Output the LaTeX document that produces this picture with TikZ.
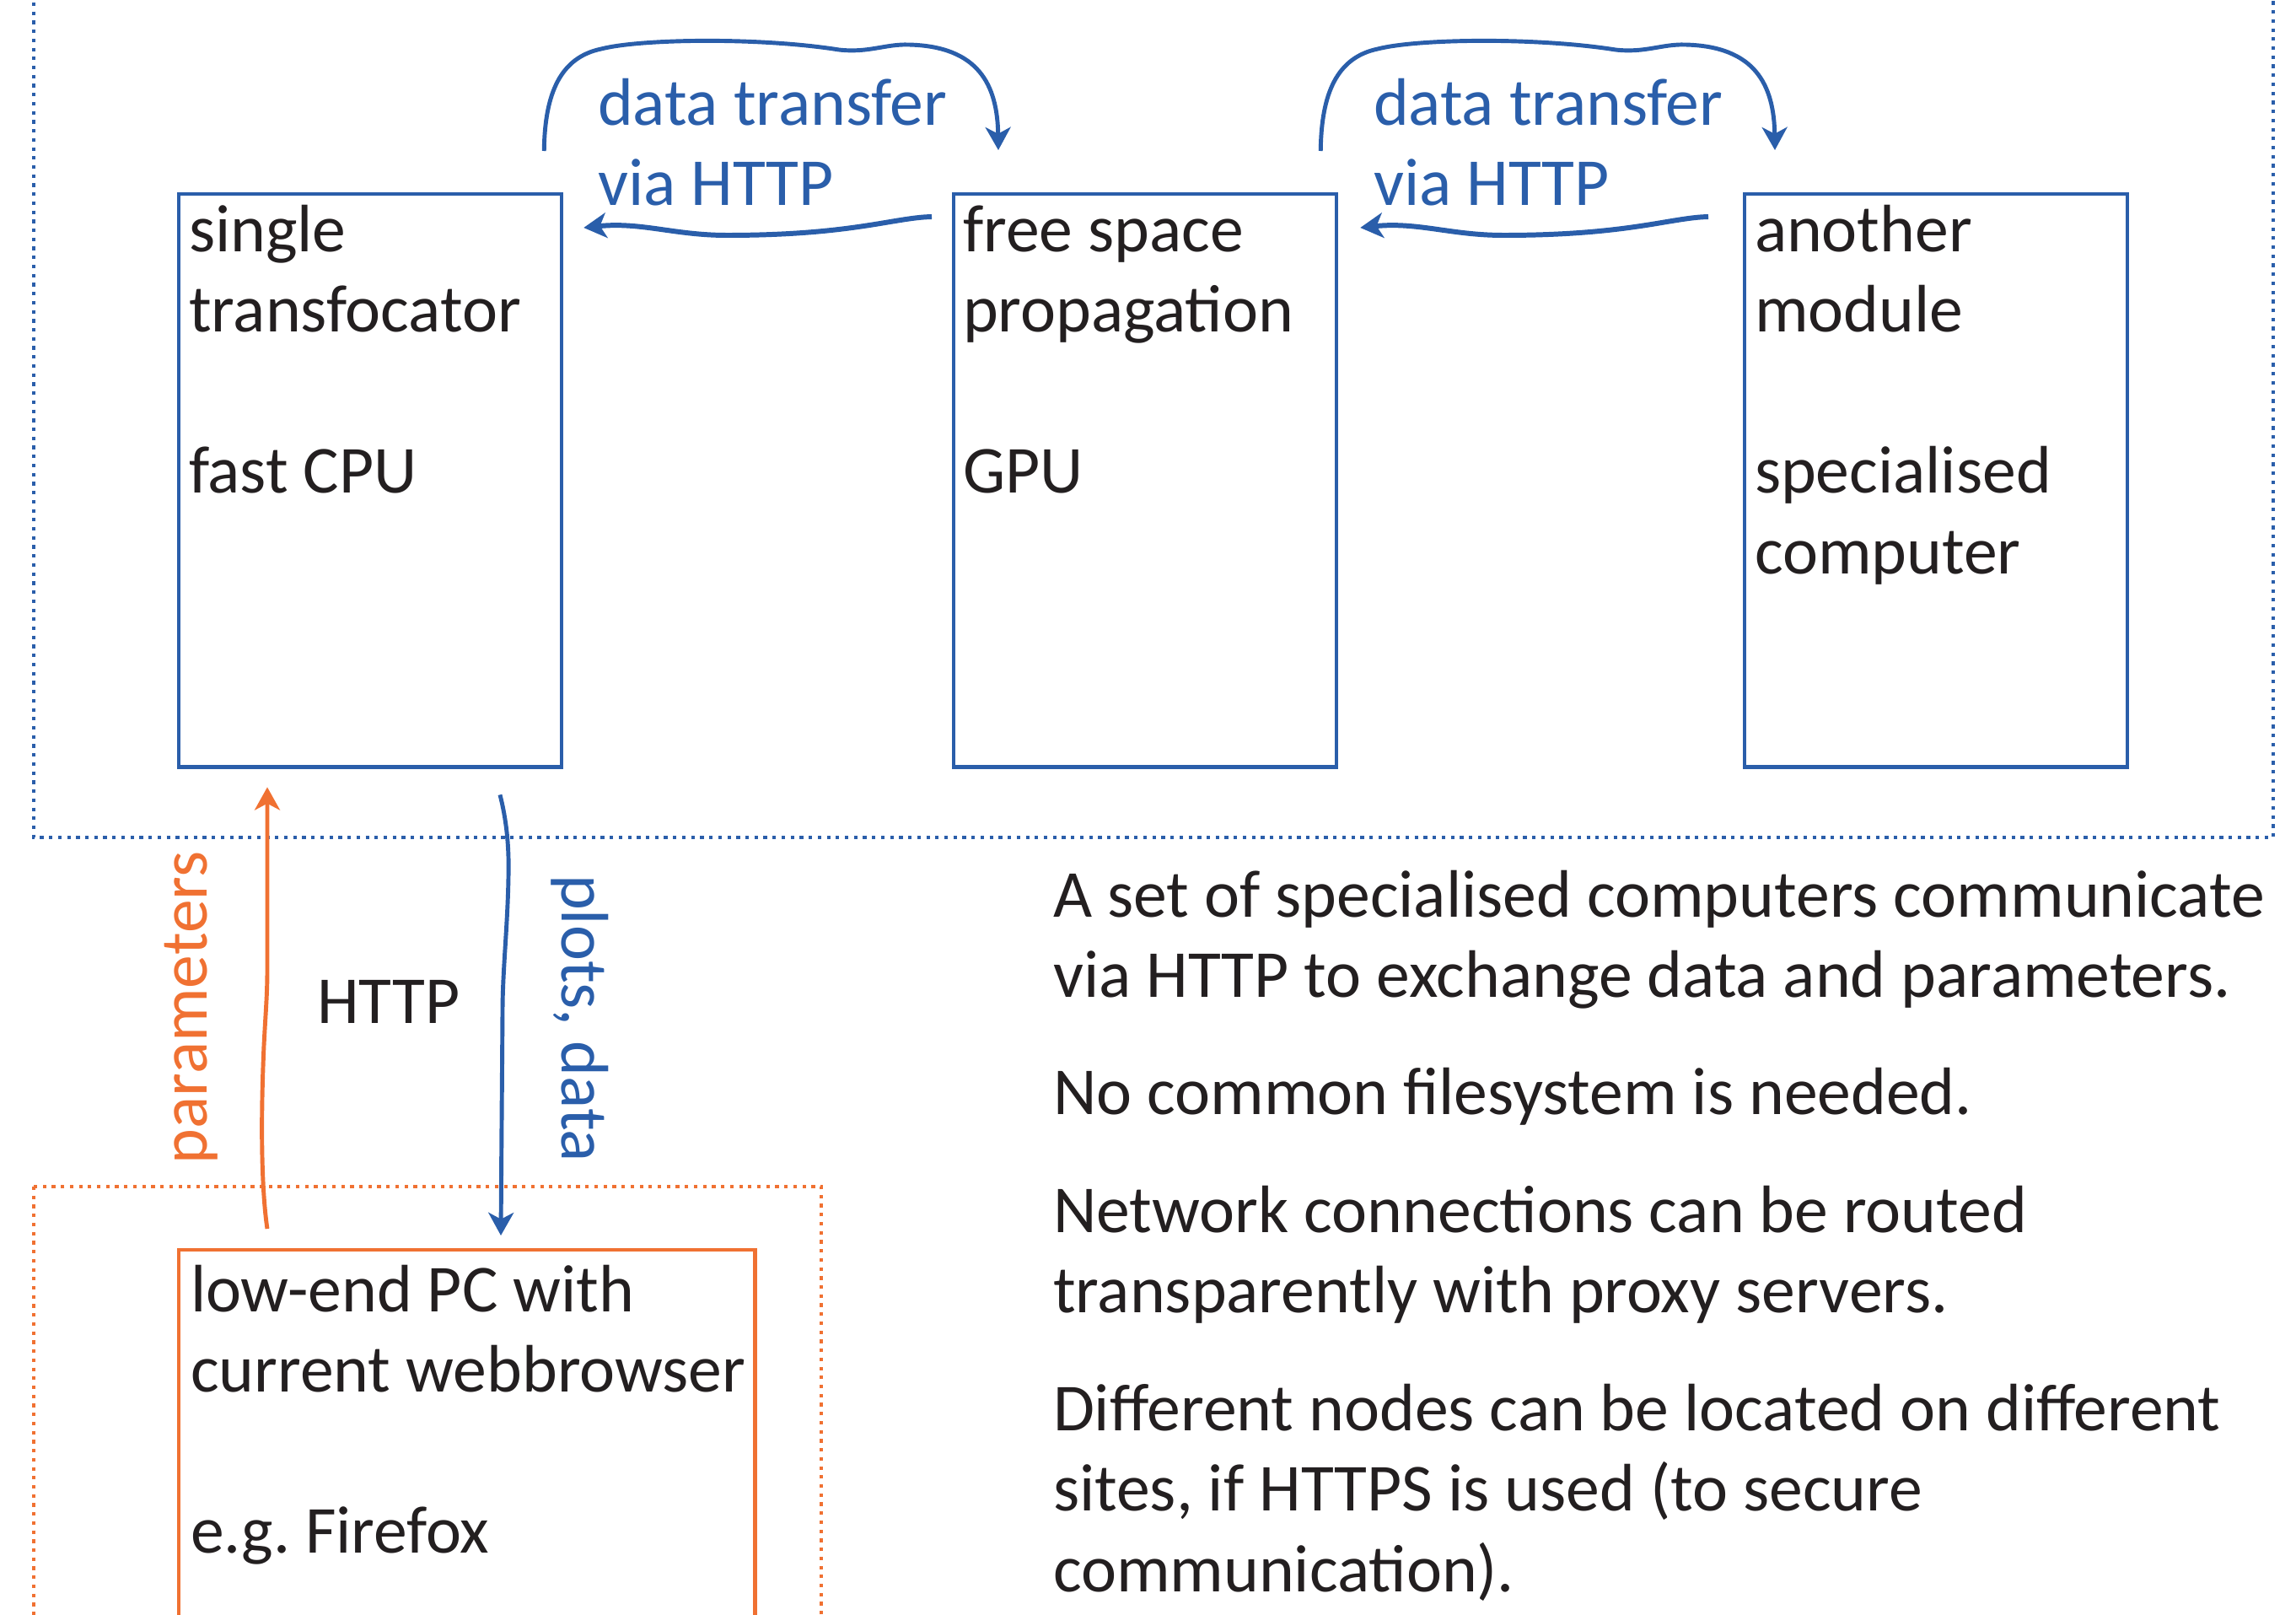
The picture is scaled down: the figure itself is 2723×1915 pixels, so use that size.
\documentclass[tikz,border=0pt]{standalone}
\usepackage{fontspec}
\setmainfont{Carlito}
\usetikzlibrary{arrows.meta}
\frenchspacing

\definecolor{modblue}{RGB}{42,94,170}
\definecolor{pcorange}{RGB}{240,113,50}
\definecolor{ink}{RGB}{35,31,32}

% left-aligned block of lines whose reference point is the first baseline
\newcommand\txtlines[1]{\begin{tabular}[t]{@{}l@{}}#1\end{tabular}}

\begin{document}
\begin{tikzpicture}[
  x=0.01cm, y=-0.01cm,
  font=\fontsize{22.65}{27.2}\selectfont, text=ink,
  modbox/.style={draw=modblue, line width=1.2pt, inner sep=0pt, outer sep=0pt,
    anchor=north west, minimum width=4.54cm, minimum height=6.79cm},
  pcbox/.style={draw=pcorange, line width=1.25pt, inner sep=0pt, outer sep=0pt,
    anchor=north west, minimum width=6.83cm, minimum height=6cm},
  groupframe/.style={line width=1.2pt, dash pattern=on 1.2pt off 1.85pt},
  txt/.style={inner sep=0pt, outer sep=0pt, anchor=base west},
  tip/.style={-{Stealth[length=7.7pt,width=8.5pt,inset=2.2pt]}},
  flow/.style={tip, line width=1.4pt},
  wave/.style={tip, line width=1.7pt},
]
\clip (0,0) rectangle (2723,1915);

% groups of machines
\draw[groupframe, draw=modblue] (40,-40) rectangle (2696,993);
\draw[groupframe, draw=pcorange] (40,1407) rectangle (974,2100);

% compute modules
\node[modbox] (m1) at (212,230) {};
\node[modbox] (m2) at (1131,230) {};
\node[modbox] (m3) at (2069,230) {};
\node[pcbox]  (pc) at (212,1482) {};

\node[txt] (m1t) at (224,298) {\txtlines{single\\ transfocator\\ \\ fast CPU}};
\node[txt] (m2t) at (1142,298) {\txtlines{free space\\ propagation\\ \\ GPU}};
\node[txt] (m3t) at (2081,298) {\txtlines{another\\ module\\ \\ specialised\\ computer}};
\node[txt] (pct) at (226,1555) {\txtlines{low-end PC with\\ current webbrowser\\ \\ e.g. Firefox}};

% transfer labels
\node[txt, text=modblue] (l1) at (709,148) {\txtlines{data transfer\\ via HTTP}};
\node[txt, text=modblue] (l2) at (1629,148) {\txtlines{data transfer\\ via HTTP}};

% end points of the connectors
\coordinate (a1s) at ([shift={(-21,-51)}]m1.north east);
\coordinate (a1e) at ([shift={(53,-52)}]m2.north west);
\coordinate (b1s) at ([shift={(-26,27)}]m2.north west);
\coordinate (b1e) at ([shift={(26,40)}]m1.north east);
\coordinate (a2s) at ([shift={(-19,-51)}]m2.north east);
\coordinate (a2e) at ([shift={(36,-52)}]m3.north west);
\coordinate (b2s) at ([shift={(-43,27)}]m3.north west);
\coordinate (b2e) at ([shift={(28,40)}]m2.north east);
\coordinate (ps) at ([shift={(105,-25)}]pc.north west);
\coordinate (pe) at ([shift={(105,24)}]m1.south west);
\coordinate (ds) at ([shift={(381,33)}]m1.south west);
\coordinate (de) at ([shift={(382,-17)}]pc.north west);

% data transfer between modules
\draw[flow, modblue] (a1s) .. controls (646,110) and (665,68) .. (713,58)
  .. controls (760,46) and (900,44) .. (995,59)
  .. controls (1030,63) and (1050,52) .. (1078,53)
  .. controls (1160,55) and (1183,100) .. (a1e);
\draw[wave, modblue] (b1s) .. controls (1060,258) and (1010,279) .. (862,279)
  .. controls (800,279) and (760,263) .. (b1e);

\draw[flow, modblue] (a2s) .. controls (1567,110) and (1586,68) .. (1634,58)
  .. controls (1681,46) and (1821,44) .. (1916,59)
  .. controls (1951,63) and (1971,52) .. (1999,53)
  .. controls (2081,55) and (2104,100) .. (a2e);
\draw[wave, modblue] (b2s) .. controls (1981,258) and (1931,279) .. (1783,279)
  .. controls (1721,279) and (1681,263) .. (b2e);

% browser link
\draw[flow, pcorange] (ps) .. controls (310,1410) and (309,1330) .. (313,1240)
  .. controls (315,1200) and (317,1180) .. (317,1150) -- (pe);
\draw[flow, modblue] (ds) .. controls (600,970) and (604,1000) .. (603,1040)
  .. controls (602,1100) and (596,1150) .. (596,1200) -- (de);

\node[txt, rotate=90, text=pcorange] (par) at (245,1380) {parameters};
\node[txt] (http) at (376,1213) {HTTP};
\node[txt, rotate=-90, text=modblue] (plt) at (666,1037) {plots, data};

% notes
\node[txt] (note) at (1249,1087) {\txtlines{A set of specialised computers communicate\\
  via HTTP to exchange data and parameters.\\[12.4pt]
  No common filesystem is needed.\\[12.4pt]
  Network connections can be routed\\
  transparently with proxy servers.\\[12.4pt]
  Different nodes can be located on different\\
  sites, if HTTPS is used (to secure\\
  communication).}};
\end{tikzpicture}
\end{document}
